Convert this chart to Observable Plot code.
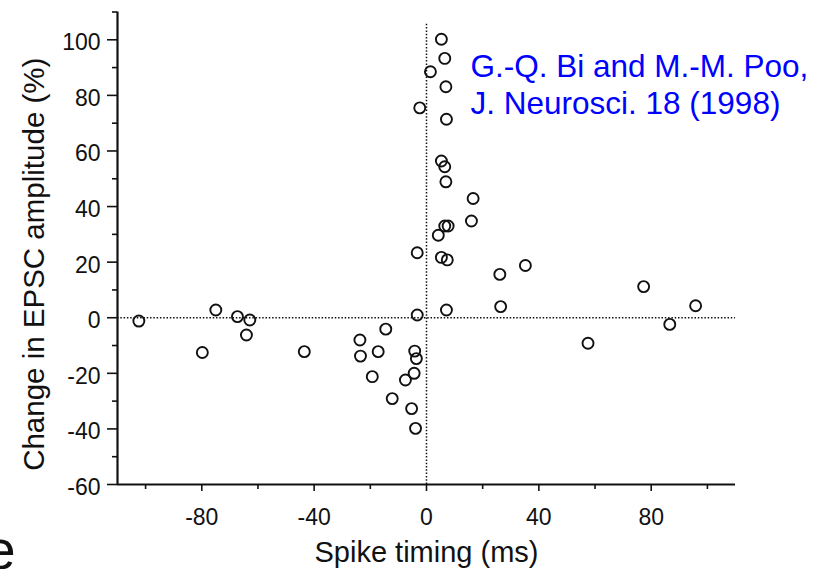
<!DOCTYPE html>
<html>
<head>
<meta charset="utf-8">
<script src="https://cdn.jsdelivr.net/npm/d3@7"></script>
<script src="https://cdn.jsdelivr.net/npm/@observablehq/plot@0.6"></script>
<style>
html, body { margin: 0; padding: 0; background: #fff; }
#chart svg { display: block; }
</style>
</head>
<body>
<div id="chart"></div>
<script>
// Spike timing (ms) and change in EPSC amplitude (%) for each recorded pair
const spikeTiming = [5.3, 6.5, 1.4, 6.9, -2.4, 7.1, 5.3, 6.5, 6.9, 16.6, 16.0, 6.5, 7.7, 4.2, -3.3, 5.3, 7.4, 7.1, -3.3,
  -14.5, -23.7, -23.5, -17.2, -4.2, -3.6, -19.3, -7.5, -4.4, -12.2, -5.3, -3.9,
  -102.4, -75.0, -67.3, -62.9, -64.1, -79.8, -43.5,
  26.1, 35.2, 26.4, 77.3, 95.8, 86.6, 57.5];
const epscChange = [100.2, 93.3, 88.5, 83.1, 75.5, 71.4, 56.4, 54.3, 48.9, 42.9, 34.8, 33.0, 33.0, 29.7, 23.4, 21.7, 20.8, 2.8, 1.0,
  -4.1, -8.0, -13.8, -12.2, -12.0, -14.7, -21.2, -22.4, -20.0, -29.1, -32.7, -39.8,
  -1.2, 2.8, 0.4, -0.8, -6.2, -12.5, -12.2,
  15.6, 18.8, 4.0, 11.2, 4.3, -2.4, -9.2];

const xTicksMajor = [-80, -40, 0, 40, 80];
const xTicksMinor = [-100, -60, -20, 20, 60, 100];
const yTicksMajor = [-60, -40, -20, 0, 20, 40, 60, 80, 100];
const yTicksMinor = [-50, -30, -10, 10, 30, 50, 70, 90, 110];
const xLabel = "Spike timing (ms)";
const yLabel = "Change in EPSC amplitude (%)";
const citationLine1 = "G.-Q. Bi and M.-M. Poo,";
const citationLine2 = "J. Neurosci. 18 (1998)";
const fragment = "e";

const data = spikeTiming.map((t, i) => ({t, c: epscChange[i]}));
const font = "'Liberation Sans', Arial, Helvetica, sans-serif";
const ink = "#111";
const plain = d => String(d);
const blank = () => "";

const chart = Plot.plot({
  width: 814,
  height: 569,
  marginLeft: 117,
  marginRight: 79,
  marginTop: 11.5,
  marginBottom: 85,
  style: {fontFamily: font, background: "#fff", color: ink},
  x: {domain: [-110, 110], label: null},
  y: {domain: [-60, 110], label: null},
  marks: [
    // dotted reference lines
    Plot.ruleY([0], {stroke: ink, strokeWidth: 1.5, strokeDasharray: "1.5,1.8"}),
    Plot.ruleX([0], {y1: -60, y2: 106, stroke: ink, strokeWidth: 1.5, strokeDasharray: "1.5,1.8"}),
    // axis lines
    Plot.ruleX([-110], {stroke: ink, strokeWidth: 2.2}),
    Plot.ruleY([-60], {stroke: ink, strokeWidth: 2.2}),
    // y ticks
    Plot.axisY(yTicksMajor, {tickSize: 10, tickFormat: blank, label: null, strokeWidth: 1.6}),
    Plot.axisY(yTicksMinor, {tickSize: 5, tickFormat: blank, label: null, strokeWidth: 1.6}),
    Plot.axisY(yTicksMajor, {tickSize: 0, tickPadding: 17, tickFormat: plain, label: null, fontSize: 23, dy: 3, fill: ink}),
    // x ticks
    Plot.axisX(xTicksMajor, {tickSize: 7, tickFormat: blank, label: null, strokeWidth: 1.6}),
    Plot.axisX(xTicksMinor, {tickSize: 5, tickFormat: blank, label: null, strokeWidth: 1.6}),
    Plot.axisX(xTicksMajor, {tickSize: 0, tickPadding: 24, tickFormat: plain, label: null, fontSize: 23, fill: ink}),
    // data
    Plot.dot(data, {x: "t", y: "c", r: 5.5, stroke: ink, strokeWidth: 1.9, fill: "none"}),
    // labels
    Plot.text([xLabel], {frameAnchor: "bottom", dy: 77, lineAnchor: "bottom", textAnchor: "middle", fontSize: 29, fill: ink}),
    Plot.text([yLabel], {frameAnchor: "left", rotate: -90, dx: -74, dy: 16, lineAnchor: "bottom", textAnchor: "middle", fontSize: 29.5, fill: ink}),
    Plot.text([citationLine1], {frameAnchor: "top-left", dx: 353, dy: 65.2, lineAnchor: "bottom", textAnchor: "start", fontSize: 31.5, fill: "#0000ff"}),
    Plot.text([citationLine2], {frameAnchor: "top-left", dx: 353, dy: 101.8, lineAnchor: "bottom", textAnchor: "start", fontSize: 31.5, fill: "#0000ff"}),
    Plot.text([fragment], {frameAnchor: "bottom-left", dx: -133, dy: 84, lineAnchor: "bottom", textAnchor: "start", fontSize: 56, fill: ink})
  ]
});

document.getElementById("chart").appendChild(chart);
</script>
</body>
</html>
